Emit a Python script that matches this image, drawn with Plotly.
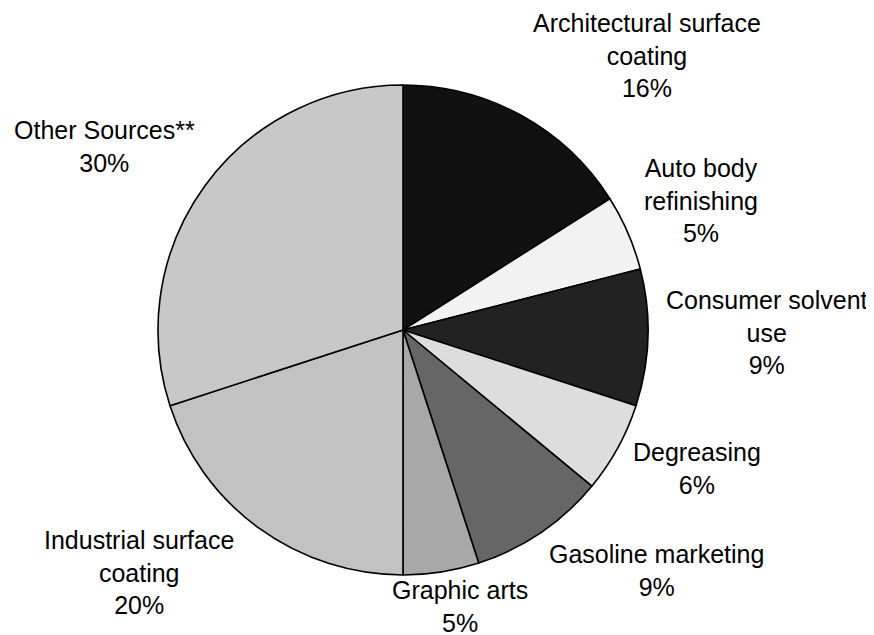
import plotly.graph_objects as go

categories = [
    "Architectural surface<br>coating",
    "Auto body<br>refinishing",
    "Consumer solvent<br>use",
    "Degreasing",
    "Gasoline marketing",
    "Graphic arts",
    "Industrial surface<br>coating",
    "Other Sources**",
]
values = [16, 5, 9, 6, 9, 5, 20, 30]
colors = ["#111111", "#f2f2f2", "#222222", "#dddddd", "#666666", "#a8a8a8", "#c2c2c2", "#c8c8c8"]

# label block centres in page pixels (layout styling)
label_px = [(647, 56), (701, 201), (767, 332), (697, 468), (656, 570), (460, 606), (139, 572), (104, 146)]

OFF = 8  # page body margin
W, H = 874, 635
ML, MR, MT, MB = 158 - OFF, 226 + OFF, 85 - OFF, 60 + OFF
pw, ph = W - ML - MR, H - MT - MB

fig = go.Figure(go.Pie(
    labels=categories,
    values=values,
    sort=False,
    direction="clockwise",
    rotation=0,
    textinfo="none",
    hoverinfo="skip",
    marker=dict(colors=colors, line=dict(color="#000000", width=1.6)),
    showlegend=False,
))

annotations = []
for lab, v, (px, py) in zip(categories, values, label_px):
    annotations.append(dict(
        x=(px - OFF - ML) / pw, y=(H - MB - (py - OFF)) / ph, xref="paper", yref="paper",
        text=f"{lab}<br>{v}%", showarrow=False, xanchor="center", yanchor="middle",
        align="center", borderpad=0,
        font=dict(family="Liberation Sans, Arial, sans-serif", size=25, color="#000000"),
    ))

fig.update_layout(
    width=W, height=H,
    margin=dict(l=ML, r=MR, t=MT, b=MB),
    paper_bgcolor="#ffffff", plot_bgcolor="#ffffff",
    annotations=annotations,
)

fig.write_html("out.html")
